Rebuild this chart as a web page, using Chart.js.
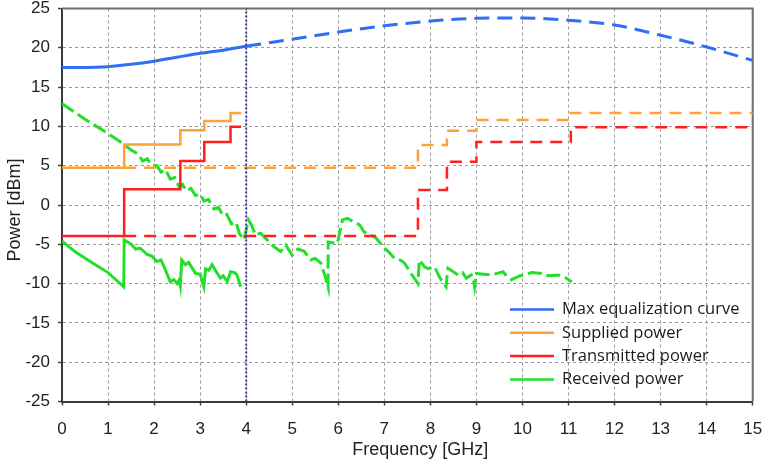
<!DOCTYPE html>
<html><head><meta charset="utf-8">
<script src="https://cdn.jsdelivr.net/npm/chart.js@4.4.0/dist/chart.umd.min.js"></script>
<style>html,body{margin:0;padding:0;background:#fff;}</style>
</head><body>
<canvas id="c" width="764" height="466"></canvas>
<script>
// ---- data ----
const xTickValues = [0,1,2,3,4,5,6,7,8,9,10,11,12,13,14,15];
const yTickValues = [-25,-20,-15,-10,-5,0,5,10,15,20,25];
const xTitle = 'Frequency [GHz]';
const yTitle = 'Power [dBm]';
const seriesNames = ['Max equalization curve','Supplied power','Transmitted power','Received power'];

const eqSolidX = [0,0.5,1,1.5,2,2.5,3,3.5,4];
const eqSolidY = [17.5,17.5,17.6,17.9,18.3,18.8,19.3,19.7,20.2];
const eqDashX = [4,5,6,7,8,9,10,11,12,13,14,15];
const eqDashY = [20.2,21.1,22.0,22.8,23.4,23.75,23.8,23.5,22.9,21.6,20.1,18.4];

const supSolidX = [0,1.35,2.57,3.09,3.66,3.89];
const supSolidY = [4.75,7.7,9.5,10.7,11.7,11.7];
const supDashX = [1.35,7.73,8.36,9.0,11.05,15];
const supDashY = [4.75,7.63,9.45,10.8,11.7,11.7];

const txSolidX = [0,1.35,2.57,3.09,3.66,3.89];
const txSolidY = [-3.95,2.0,5.6,8.0,9.96,9.96];
const txDashX = [1.35,7.73,8.36,9.0,11.05,15];
const txDashY = [-3.95,1.9,5.5,8.0,9.9,9.9];

const rxSolidX = [0,0.3,0.7,1.0,1.34,1.35,1.5,1.6,1.7,1.85,1.95,2.06,2.15,2.25,2.35,2.43,2.5,2.55,2.57,2.6,2.68,2.75,2.9,3.0,3.08,3.12,3.19,3.26,3.35,3.44,3.5,3.59,3.66,3.75,3.8,3.88];
const rxSolidY = [-4.6,-6.0,-7.5,-8.6,-10.4,-4.45,-5.0,-5.6,-5.5,-6.3,-6.5,-7.2,-7.0,-8.3,-9.75,-9.5,-10.0,-9.5,-10.2,-7.0,-7.6,-7.3,-8.7,-8.8,-10.4,-8.1,-8.3,-7.6,-8.5,-9.3,-9.0,-9.75,-8.5,-8.6,-8.9,-10.4];

const rxDashX = [0,0.5,1.0,1.3,1.5,1.65,1.75,1.85,1.95,2.06,2.15,2.25,2.35,2.45,2.55,2.62,2.7,2.8,2.9,3.0,3.08,3.18,3.3,3.4,3.5,3.58,3.68,3.78,3.85,3.95,4.05,4.12,4.2,4.31,4.45,4.6,4.75,4.86,5.0,5.12,5.26,5.4,5.5,5.62,5.7,5.78,5.78,5.98,6.09,6.2,6.35,6.46,6.56,6.7,6.82,7.0,7.1,7.22,7.35,7.44,7.6,7.73,7.76,7.88,7.95,8.09,8.2,8.34,8.38,8.5,8.6,8.7,8.78,8.89,8.93,8.96,9.0,9.15,9.32,9.45,9.58,9.65,9.76,9.95,10.2,10.41,10.56,10.78,10.95,11.07];
const rxDashY = [12.9,10.9,9.1,7.9,7.0,6.5,5.6,5.9,5.1,5.0,4.2,4.5,3.3,3.5,2.2,2.6,1.8,2.1,1.2,1.4,0.5,0.7,-0.5,-0.3,-1.4,-1.2,-2.4,-2.2,-3.6,-4.45,-1.9,-2.6,-3.8,-3.6,-4.4,-5.3,-5.9,-5.1,-6.4,-5.6,-5.9,-7.0,-6.8,-7.4,-8.8,-10.5,-4.7,-4.9,-1.9,-1.7,-2.2,-2.5,-3.4,-3.8,-4.2,-5.5,-6.0,-6.8,-7.0,-7.4,-8.9,-10.0,-7.0,-7.9,-8.1,-7.85,-9.2,-10.4,-8.05,-8.5,-8.9,-8.6,-9.3,-8.9,-9.3,-10.4,-8.7,-8.8,-8.9,-8.7,-8.5,-9.0,-9.5,-9.0,-8.6,-8.7,-9.0,-8.9,-9.3,-9.8];

const markerX = [4,4];
const markerY = [-25,25];

// ---- helpers ----
const pts = (xs, ys) => xs.map((x, i) => ({x: x, y: ys[i]}));
const BLUE = '#2f6ef5', ORANGE = '#ffa235', RED = '#ff1f1f', GREEN = '#22e02a';

const ds = (label, xs, ys, color, width, dash, extra) => Object.assign({
  label: label, data: pts(xs, ys), borderColor: color, backgroundColor: color,
  borderWidth: width, borderDash: dash, pointRadius: 0, fill: false, tension: 0,
  borderCapStyle: 'butt', borderJoinStyle: 'miter'
}, extra || {});

const insideLegend = {
  id: 'insideLegend',
  afterDatasetsDraw(chart, args, opts) {
    const ctx = chart.ctx;
    ctx.save();
    ctx.font = opts.font;
    ctx.textBaseline = 'middle';
    ctx.textAlign = 'left';
    let row = 0;
    chart.data.datasets.forEach(d => {
      if (!d.showInLegend) return;
      const y = opts.top + row * opts.rowStep;
      ctx.strokeStyle = d.borderColor;
      ctx.lineWidth = opts.lineWidth;
      ctx.setLineDash([]);
      ctx.beginPath(); ctx.moveTo(opts.lineX0, y); ctx.lineTo(opts.lineX1, y); ctx.stroke();
      ctx.fillStyle = opts.color;
      ctx.fillText(d.label, opts.textX, y);
      row++;
    });
    ctx.restore();
  }
};

const frame = {
  id: 'frame',
  beforeDatasetsDraw(chart) {
    const {ctx, chartArea: a} = chart;
    ctx.save();
    ctx.strokeStyle = '#6e6e6e';
    ctx.lineWidth = 2;
    ctx.beginPath();
    ctx.moveTo(a.left, a.top); ctx.lineTo(a.right, a.top); ctx.lineTo(a.right, a.bottom);
    ctx.stroke();
    ctx.restore();
  }
};

const titleShift = {
  id: 'titleShift',
  beforeDraw(chart) {
    const shifts = {x: [13, 0], y: [0, 5]};
    Object.keys(shifts).forEach(k => {
      const s = chart.scales[k];
      if (!s || s._shiftWrapped) return;
      const orig = s.drawTitle;
      s.drawTitle = function () {
        this.ctx.save();
        this.ctx.translate(shifts[k][0], shifts[k][1]);
        orig.call(this);
        this.ctx.restore();
      };
      s._shiftWrapped = true;
    });
  }
};

const tickFont = {family: "'Liberation Sans', Arial, sans-serif", size: 17};
const titleFont = {family: "'Liberation Sans', Arial, sans-serif", size: 18};

new Chart(document.getElementById('c'), {
  type: 'line',
  data: {
    datasets: [
      ds('', markerX, markerY, '#3434b4', 2, [2, 2]),
      ds(seriesNames[0], eqSolidX, eqSolidY, BLUE, 3, [], {cubicInterpolationMode: 'monotone', showInLegend: true}),
      ds(seriesNames[0] + ' (dashed)', eqDashX, eqDashY, BLUE, 3, [15, 8], {cubicInterpolationMode: 'monotone'}),
      ds(seriesNames[1], supSolidX, supSolidY, ORANGE, 2.5, [], {stepped: 'before', showInLegend: true}),
      ds(seriesNames[1] + ' (dashed)', supDashX, supDashY, ORANGE, 2.5, [12, 8], {stepped: 'before'}),
      ds(seriesNames[2], txSolidX, txSolidY, RED, 2.5, [], {stepped: 'before', showInLegend: true}),
      ds(seriesNames[2] + ' (dashed)', txDashX, txDashY, RED, 2.5, [12, 8], {stepped: 'before'}),
      ds(seriesNames[3], rxSolidX, rxSolidY, GREEN, 3, [], {showInLegend: true}),
      ds(seriesNames[3] + ' (dashed)', rxDashX, rxDashY, GREEN, 3, [14, 5])
    ]
  },
  options: {
    responsive: false,
    animation: false,
    devicePixelRatio: 1,
    layout: {padding: {top: 8.5, right: 11.3, left: 0, bottom: 0}},
    plugins: {
      legend: {display: false},
      tooltip: {enabled: false},
      insideLegend: {
        font: "16.5px 'Open Sans', sans-serif", color: '#1a1a1a',
        top: 309.5, rowStep: 23.3, lineX0: 510, lineX1: 554, textX: 562, lineWidth: 2.5
      }
    },
    scales: {
      x: {
        type: 'linear', min: 0, max: 15,
        afterFit: s => { s.height = 64.5; s.paddingLeft = 0; s.paddingRight = 0; },
        afterBuildTicks: s => { s.ticks = xTickValues.map(v => ({value: v})); },
        ticks: {font: tickFont, color: '#222', padding: 14, maxRotation: 0, autoSkip: false},
        grid: {color: '#9a9a9a', lineWidth: 1, tickLength: 4, tickColor: '#444', tickWidth: 1.5},
        border: {color: '#3a3a3a', width: 2, dash: [3, 3]},
        title: {display: true, text: xTitle, font: titleFont, color: '#222', padding: {top: 0, bottom: 5}}
      },
      y: {
        type: 'linear', min: -25, max: 25,
        afterFit: s => { s.width = 62; s.paddingTop = 0; s.paddingBottom = 0; },
        afterBuildTicks: s => { s.ticks = yTickValues.map(v => ({value: v})); },
        ticks: {font: tickFont, color: '#222', padding: 8},
        grid: {color: '#9a9a9a', lineWidth: 1, tickLength: 4, tickColor: '#444', tickWidth: 1.5},
        border: {color: '#3a3a3a', width: 2, dash: [3, 3]},
        title: {display: true, text: yTitle, font: titleFont, color: '#222', padding: {top: 4, bottom: 0}}
      }
    }
  },
  plugins: [insideLegend, frame, titleShift]
});
</script>
</body></html>
